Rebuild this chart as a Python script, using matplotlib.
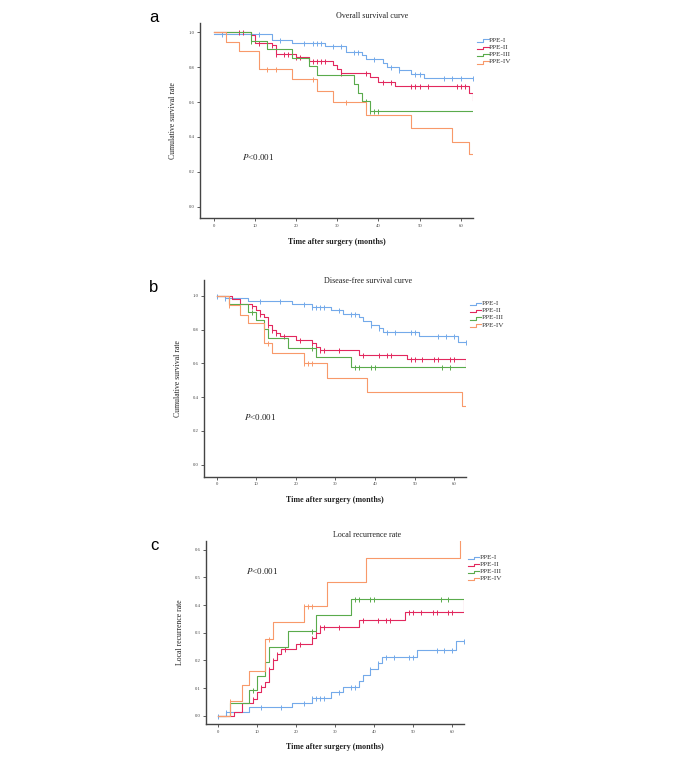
import numpy as np
import matplotlib
matplotlib.use("Agg")
import matplotlib.pyplot as plt

plt.rcParams['font.family'] = ['Liberation Serif', 'DejaVu Serif']
plt.rcParams['mathtext.fontset'] = 'stix'

groups = ["PPE-I", "PPE-II", "PPE-III", "PPE-IV"]
colors = ["#74aaea", "#e2285e", "#5aab4c", "#f8996a"]
t_end = 63

# a: overall survival (event times, survival after event, censored times)
os_t = [
    [0, 14, 19, 27, 32, 36, 37, 41, 42, 45, 48, 51],
    [0, 9, 10, 14, 15, 20, 23, 29, 30, 31, 38, 40, 44, 62, 63],
    [0, 9, 13, 19, 23, 25, 34, 35, 36, 38],
    [0, 3, 6, 11, 19, 25, 29, 37, 48, 58, 62],
]
os_s = [
    [0.99, 0.955, 0.937, 0.92, 0.885, 0.87, 0.845, 0.822, 0.803, 0.784, 0.759, 0.736],
    [1.0, 0.985, 0.94, 0.925, 0.875, 0.856, 0.835, 0.81, 0.79, 0.765, 0.742, 0.717, 0.69, 0.65, 0.612],
    [1.0, 0.952, 0.904, 0.855, 0.805, 0.753, 0.704, 0.654, 0.604, 0.548],
    [1.0, 0.947, 0.895, 0.792, 0.73, 0.663, 0.598, 0.524, 0.45, 0.373, 0.30],
]
os_c = [
    [2, 11, 16, 22, 24, 25, 26, 29, 31, 34, 35, 39, 43, 45, 49, 50, 56, 58, 60, 63],
    [6, 7, 11, 14, 15, 17, 18, 20, 21, 24, 25, 26, 27, 31, 37, 41, 43, 48, 49, 50, 52, 59, 60, 61],
    [9, 37, 38, 39, 40],
    [13, 15, 24, 32],
]

# b: disease-free survival
dfs_t = [
    [0, 2, 8, 19, 24, 29, 32, 36, 37, 39, 41, 42, 51, 61],
    [0, 4, 6, 9, 10, 11, 12, 13, 14, 15, 16, 20, 24, 25, 26, 36, 48, 63],
    [0, 3, 8, 10, 12, 13, 18, 25, 34],
    [0, 3, 6, 8, 12, 14, 22, 28, 38, 62],
]
dfs_s = [
    [1.0, 0.986, 0.97, 0.953, 0.935, 0.915, 0.895, 0.873, 0.852, 0.83, 0.808, 0.788, 0.762, 0.729],
    [1.0, 0.985, 0.955, 0.94, 0.915, 0.895, 0.877, 0.83, 0.8, 0.778, 0.76, 0.74, 0.72, 0.70, 0.678, 0.653, 0.625, 0.58],
    [1.0, 0.955, 0.908, 0.856, 0.804, 0.75, 0.693, 0.636, 0.577],
    [1.0, 0.946, 0.89, 0.837, 0.723, 0.662, 0.603, 0.515, 0.431, 0.35],
]
dfs_c = [
    [0, 2, 11, 16, 22, 24, 25, 26, 27, 31, 34, 35, 39, 41, 43, 45, 49, 50, 56, 58, 60, 63],
    [9, 11, 13, 14, 15, 17, 21, 24, 25, 26, 27, 31, 37, 41, 43, 44, 49, 50, 52, 55, 56, 59, 60],
    [9, 24, 35, 36, 39, 40, 57, 59],
    [3, 13, 22, 23, 24],
]

# c: local recurrence (cumulative)
lr_t = dfs_t
lr_s = [
    [0.0, 0.014, 0.03, 0.047, 0.065, 0.085, 0.105, 0.127, 0.148, 0.17, 0.192, 0.212, 0.238, 0.271],
    [0.0, 0.015, 0.045, 0.06, 0.085, 0.105, 0.123, 0.17, 0.2, 0.222, 0.24, 0.26, 0.28, 0.30, 0.322, 0.347, 0.375, 0.42],
    [0.0, 0.045, 0.092, 0.144, 0.196, 0.25, 0.307, 0.364, 0.423],
    [0.0, 0.054, 0.11, 0.163, 0.277, 0.338, 0.397, 0.485, 0.569, 0.65],
]
lr_c = dfs_c


def km(ax, t, s, cens, col):
    t = list(t)
    s = list(s)
    if t[-1] < t_end:
        t.append(t_end)
        s.append(s[-1])
    ax.step(t, s, where='post', color=col, lw=0.8, clip_on=True)
    idx = np.searchsorted(t, cens, side='right') - 1
    ax.plot(cens, np.array(s)[idx], ls='none', marker='|', ms=3.6, mew=0.7, color=col)


def legend(ax, x0, y0, dy):
    for i, (g, col) in enumerate(zip(groups, colors)):
        y = y0 - i * dy
        ax.plot([x0, x0 + 0.022, x0 + 0.022, x0 + 0.042], [y - 0.012, y - 0.012, y, y],
                color=col, lw=0.8, transform=ax.transAxes, clip_on=False)
        ax.text(x0 + 0.044, y - 0.004, g, transform=ax.transAxes, fontsize=5.2,
                va='center', ha='left', color='#333333')


def style(ax, xlim, ylim, yticks, ylabel, title, tx, ty):
    ax.set_xlim(*xlim)
    ax.set_ylim(*ylim)
    ax.set_xticks(range(0, 61, 10))
    ax.set_yticks(yticks)
    ax.set_yticklabels(["%.1f" % v for v in yticks])
    for sp in ['top', 'right']:
        ax.spines[sp].set_visible(False)
    for sp in ['left', 'bottom']:
        ax.spines[sp].set_color('#444444')
        ax.spines[sp].set_linewidth(1.0)
    ax.tick_params(labelsize=3.4, length=2, width=0.6, pad=2, colors='#444444')
    ax.set_xlabel("Time after surgery (months)", fontsize=5.8, fontweight='bold', color='#222222')
    ax.xaxis.set_label_coords(0.5, -0.1)
    ax.set_ylabel(ylabel, fontsize=5.6, color='#222222')
    ax.yaxis.set_label_coords(-0.085, 0.5)
    ax.text(tx, ty, title, transform=ax.transAxes, fontsize=5.8, ha='center', va='center',
            color='#222222')


fig = plt.figure(figsize=(6.85, 7.66), dpi=100)

ax_a = fig.add_axes([0.292, 0.715, 0.3985, 0.2554])
for i in range(4):
    km(ax_a, os_t[i], os_s[i], os_c[i], colors[i])
style(ax_a, (-3.4, 63), (-0.067, 1.055), np.arange(0, 1.01, 0.2),
      "Cumulative survival rate", "Overall survival curve", 0.63, 1.034)
ax_a.text(6.8, 0.285, "$P$<0.001", fontsize=6.5, va='center', color='#222222')
legend(ax_a, 1.015, 0.915, 0.0373)

ax_b = fig.add_axes([0.2978, 0.3777, 0.3825, 0.2568])
for i in range(4):
    km(ax_b, dfs_t[i], dfs_s[i], dfs_c[i], colors[i])
style(ax_b, (-3.2, 63), (-0.071, 1.095), np.arange(0, 1.01, 0.2),
      "Cumulative survival rate", "Disease-free survival curve", 0.626, 0.995)
ax_b.text(6.9, 0.283, "$P$<0.001", fontsize=6.5, va='center', color='#222222')
legend(ax_b, 1.015, 0.885, 0.037)

ax_c = fig.add_axes([0.3007, 0.0544, 0.3766, 0.2397])
for i in range(4):
    km(ax_c, lr_t[i], lr_s[i], lr_c[i], colors[i])
style(ax_c, (-3.15, 63), (-0.031, 0.633), np.arange(0, 0.61, 0.1),
      "Local recurrence rate", "Local recurrence rate", 0.624, 1.031)
ax_c.text(7.1, 0.524, "$P$<0.001", fontsize=6.5, va='center', color='#222222')
legend(ax_c, 1.016, 0.91, 0.038)

for lab, y in [("a", 1 - 18 / 766), ("b", 1 - 287 / 766), ("c", 1 - 545 / 766)]:
    fig.text(154 / 685, y, lab, fontsize=12, family='Liberation Sans', ha='center', va='center')

fig.savefig("out.png", dpi=100)
